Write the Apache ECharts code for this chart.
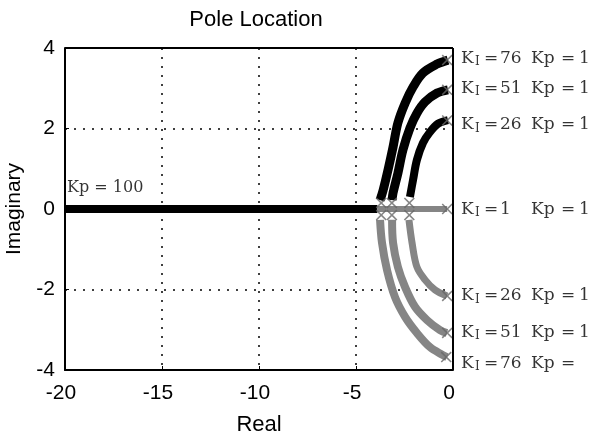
<!DOCTYPE html>
<html>
<head>
<meta charset="utf-8">
<script src="https://cdn.jsdelivr.net/npm/echarts@6/dist/echarts.min.js"></script>
<style>
  html, body { margin: 0; padding: 0; background: #fff; }
  #chart { width: 590px; height: 435px; }
</style>
</head>
<body>
<div id="chart"></div>
<script>
// pole paths, [real, imaginary]
const realAxisBlack = [[-20, 0], [-3.9, 0]];
const realAxisGray = [[-3.9, 0], [-0.3, 0]];

const upperKi76 = [[-3.76, 0.22], [-3.6, 0.47], [-3.35, 0.97], [-3.09, 1.54], [-2.84, 2.14], [-2.47, 2.63], [-2.06, 3.03], [-1.55, 3.38], [-0.82, 3.6], [-0.26, 3.7]];
const upperKi51 = [[-3.14, 0.22], [-3.09, 0.4], [-2.84, 0.89], [-2.58, 1.47], [-2.22, 2.01], [-1.86, 2.38], [-1.44, 2.66], [-0.82, 2.88], [-0.26, 2.96]];
const upperKi26 = [[-2.22, 0.3], [-2.06, 0.72], [-1.86, 1.22], [-1.55, 1.64], [-1.19, 1.91], [-0.77, 2.12], [-0.26, 2.21]];

const lowerKi76 = [[-3.76, -0.27], [-3.66, -0.84], [-3.4, -1.52], [-2.99, -2.19], [-2.47, -2.68], [-1.86, -3.08], [-1.19, -3.43], [-0.52, -3.63], [-0.31, -3.68]];
const lowerKi51 = [[-3.14, -0.27], [-3.09, -0.84], [-2.84, -1.44], [-2.47, -1.94], [-1.96, -2.43], [-1.34, -2.76], [-0.67, -3.01], [-0.31, -3.08]];
const lowerKi26 = [[-2.27, -0.27], [-2.11, -0.84], [-1.86, -1.44], [-1.44, -1.76], [-0.93, -2.01], [-0.31, -2.16]];

const endMarks = [[-3.7, 0.15], [-3.15, 0.15], [-2.25, 0.15], [-3.7, -0.15], [-3.15, -0.15], [-2.25, -0.15], [-0.3, 0], [-0.3, 3.7], [-0.3, 2.96], [-0.3, 2.2], [-0.3, -2.16], [-0.3, -3.08], [-0.35, -3.68]];

const sideLabelY = [3.73, 3.0, 2.09, -0.02, -2.16, -3.06, -3.83];
const sideLabelKi = ['76', '51', '26', '1', '26', '51', '76'];
const sideLabelKp = ['1', '1', '1', '1', '1', '1', ''];

const xTicks = [-20, -15, -10, -5, 0];
const yTicks = [-4, -2, 0, 2, 4];

const BLACK = '#000';
const GRAY = '#858585';
const XMARK = 'path://M0,1L1,0L5,4L9,0L10,1L6,5L10,9L9,10L5,6L1,10L0,9L4,5Z';
const SERIF = 'DejaVu Serif';
const SANS = 'Liberation Sans';

function band(data, color, width) {
  return {
    type: 'line',
    data,
    smooth: 0.35,
    showSymbol: false,
    silent: true,
    lineStyle: { color, width, cap: 'butt' },
    z: 3,
  };
}

const labelText = { fontFamily: SERIF, fontSize: 17, color: '#000', lineHeight: 20 };

const chart = echarts.init(document.getElementById('chart'), null, { renderer: 'canvas' });

chart.setOption({
  animation: false,
  backgroundColor: '#fff',
  title: {
    text: 'Pole Location',
    left: 251,
    top: 4,
    textAlign: 'center',
    textStyle: { fontFamily: SANS, fontSize: 22, fontWeight: 'normal', color: '#000' },
  },
  grid: { left: 65, right: 137, top: 48, bottom: 65, containLabel: false, outerBoundsMode: 'none' },
  xAxis: {
    type: 'value',
    min: xTicks[0],
    max: xTicks[xTicks.length - 1],
    interval: 5,
    name: 'Real',
    nameLocation: 'middle',
    nameGap: 44,
    nameTextStyle: { fontFamily: SANS, fontSize: 22, color: '#000' },
    axisLine: { onZero: false, lineStyle: { color: '#000', width: 2 } },
    axisTick: { inside: true, length: 4, lineStyle: { color: '#000' } },
    axisLabel: { fontFamily: SANS, fontSize: 21, color: '#000', margin: 13, padding: [0, 8, 0, 0] },
    splitLine: { show: true, lineStyle: { color: '#000', width: 1.5, type: [2, 7] } },
  },
  yAxis: {
    type: 'value',
    min: yTicks[0],
    max: yTicks[yTicks.length - 1],
    interval: 2,
    name: 'Imaginary',
    nameLocation: 'middle',
    nameGap: 40,
    nameRotate: 90,
    nameTextStyle: { fontFamily: SANS, fontSize: 21, color: '#000' },
    axisLine: { onZero: false, lineStyle: { color: '#000', width: 2 } },
    axisTick: { inside: true, length: 4, lineStyle: { color: '#000' } },
    axisLabel: { fontFamily: SANS, fontSize: 21, color: '#000', margin: 10, padding: [6, 0, 0, 0] },
    splitLine: { show: true, lineStyle: { color: '#000', width: 1.5, type: [2, 7] } },
  },
  graphic: [
    // top and right border of the axes box
    { type: 'line', shape: { x1: 65, y1: 48, x2: 453, y2: 48 }, style: { stroke: '#000', lineWidth: 2 }, z: 10 },
    { type: 'line', shape: { x1: 453, y1: 48, x2: 453, y2: 370 }, style: { stroke: '#000', lineWidth: 2 }, z: 10 },
  ],
  series: [
    band(realAxisBlack, BLACK, 8),
    band(realAxisGray, GRAY, 6),
    band(upperKi76, BLACK, 9),
    band(upperKi51, BLACK, 9),
    band(upperKi26, BLACK, 8),
    band(lowerKi76, GRAY, 8),
    band(lowerKi51, GRAY, 8),
    band(lowerKi26, GRAY, 7),
    {
      type: 'scatter',
      data: endMarks,
      symbol: XMARK,
      symbolSize: 11,
      silent: true,
      itemStyle: { color: '#666' },
      z: 4,
    },
    {
      type: 'scatter',
      data: [[-20, 0.52]],
      symbolSize: 0,
      silent: true,
      label: {
        show: true,
        position: 'right',
        distance: 2,
        formatter: 'Kp = 100',
        fontFamily: SERIF,
        fontSize: 16,
        color: '#000',
      },
    },
    {
      type: 'scatter',
      data: sideLabelY.map((y, i) => ({ value: [0, y], ki: sideLabelKi[i], kp: sideLabelKp[i] })),
      symbolSize: 0,
      silent: true,
      clip: false,
      label: {
        show: true,
        position: 'right',
        distance: 8,
        formatter: (p) => '{k|K}{s|I}{eq|=}{n|' + p.data.ki + '}{kp|Kp}{eq2|=}{v|' + (p.data.kp || ' ') + '}',
        rich: {
          k: { ...labelText, width: 13 },
          s: { ...labelText, fontSize: 12, width: 9, padding: [7, 0, 0, 1] },
          eq: { ...labelText, width: 16 },
          n: { ...labelText, width: 31 },
          kp: { ...labelText, width: 30 },
          eq2: { ...labelText, width: 18 },
          v: { ...labelText },
        },
      },
    },
  ],
});
</script>
</body>
</html>
